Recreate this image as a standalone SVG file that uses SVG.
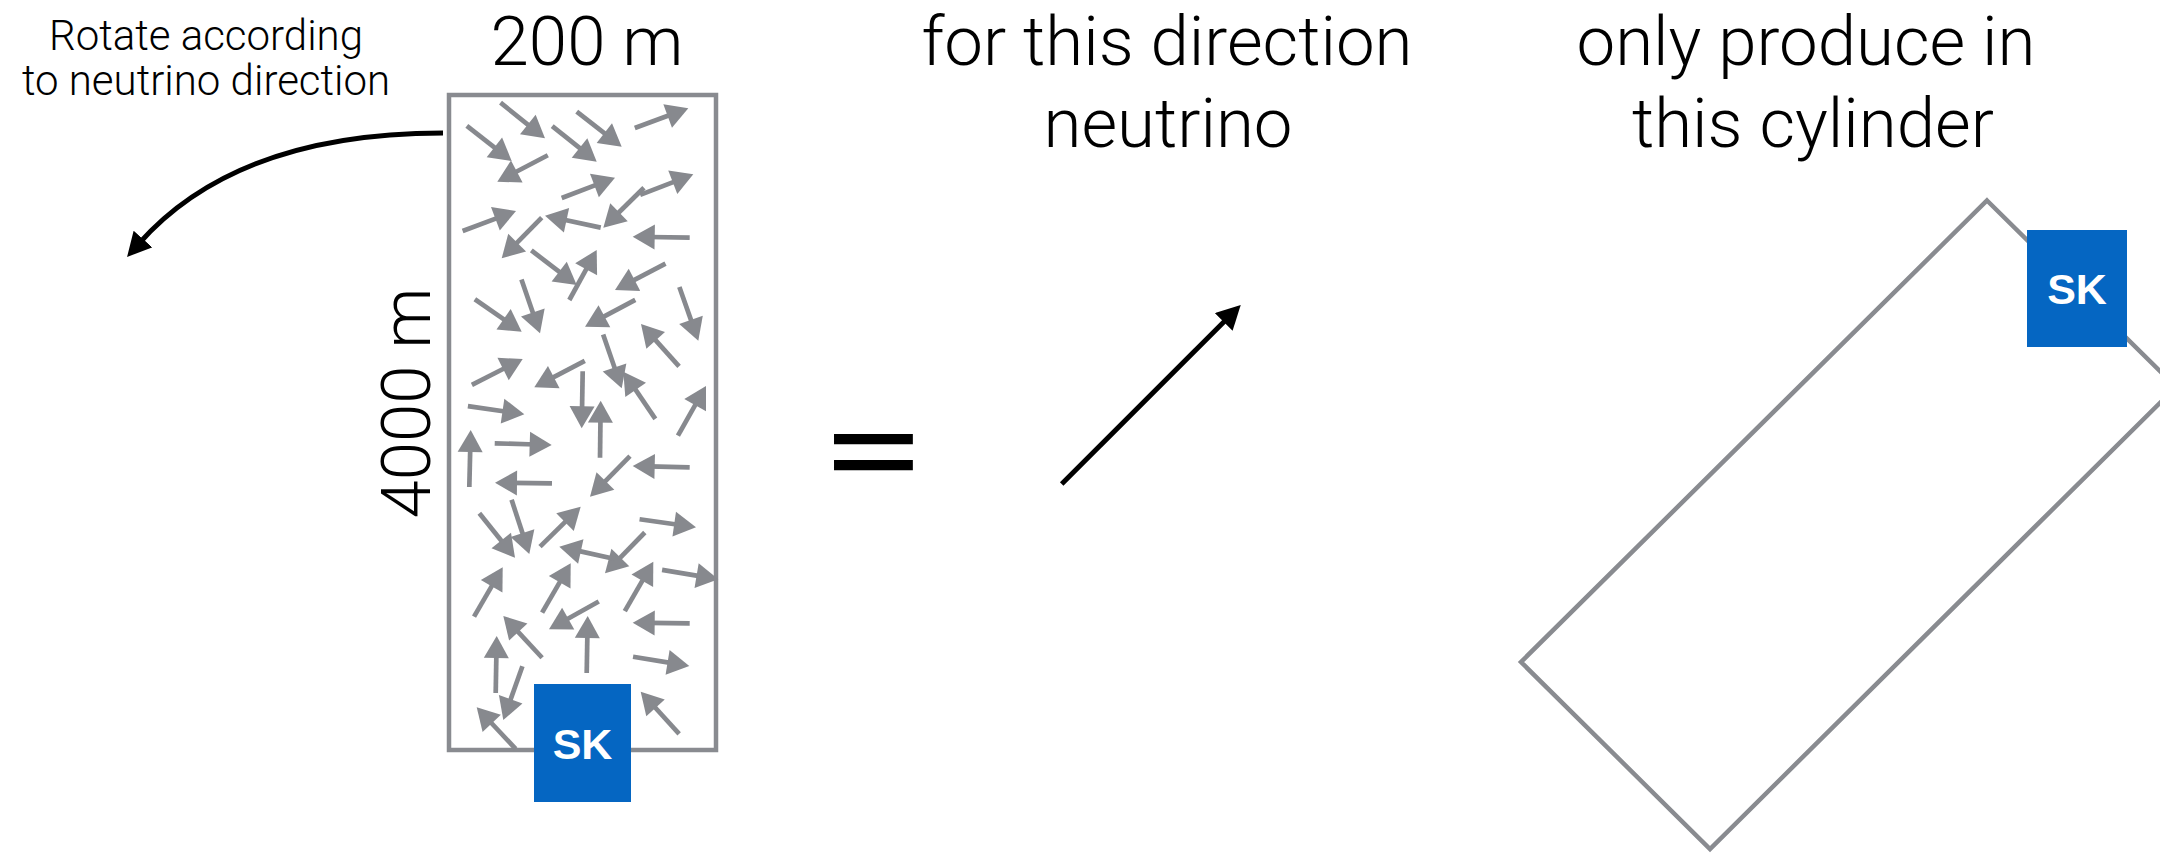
<svg xmlns="http://www.w3.org/2000/svg" xmlns:xlink="http://www.w3.org/1999/xlink" width="2160" height="855" viewBox="0 0 2160 855">
<style>
.lt{font-family:Roboto,'Liberation Sans',sans-serif;font-weight:300;fill:#000;text-anchor:middle}
.big{font-size:69px}
.small{font-size:42px}
.sk{font-family:'Liberation Sans',Arial,sans-serif;font-weight:bold;font-size:43px;fill:#fff;text-anchor:middle}
.skbox{fill:#0566c2}
.frame{fill:none;stroke:#898b90;stroke-width:4.5}
.blk{fill:none;stroke:#000;stroke-width:5}
</style>
<defs>
<marker id="ah" viewBox="0 0 24 25" refX="6" refY="12.5" markerWidth="24" markerHeight="25" markerUnits="userSpaceOnUse" orient="auto">
<path d="M0,0 L24,12.5 L0,25 Z" fill="#000"/>
</marker>
<g id="ga">
<line x1="-57" y1="0" x2="-16" y2="0" stroke="#87898e" stroke-width="4.7"/>
<polygon points="0,0 -22,-12.5 -22,12.5" fill="#87898e"/>
</g>
</defs>
<rect width="2160" height="855" fill="#fff"/>

<g id="label-rotate">
<text class="lt small" x="206" y="50">Rotate according</text>
<text class="lt small" x="206" y="95">to neutrino direction</text>
</g>

<g id="label-200m"><text class="lt big" x="587" y="65">200 m</text></g>
<g id="label-4000m"><text class="lt big" transform="translate(430,403) rotate(-90)">4000 m</text></g>

<g id="volume">
<rect class="frame" x="449" y="95" width="267" height="655"/>
<g id="particles">
<use xlink:href="#ga" transform="translate(545,138.3) rotate(38.7)"/>
<use xlink:href="#ga" transform="translate(511.7,161) rotate(38.1)"/>
<use xlink:href="#ga" transform="translate(621.7,146.7) rotate(37.9)"/>
<use xlink:href="#ga" transform="translate(596.7,161.7) rotate(38.7)"/>
<use xlink:href="#ga" transform="translate(688.3,108.3) rotate(-20.2)"/>
<use xlink:href="#ga" transform="translate(497.3,181.7) rotate(152.4)"/>
<use xlink:href="#ga" transform="translate(615,177.7) rotate(-20.8)"/>
<use xlink:href="#ga" transform="translate(693.3,174.3) rotate(-21.2)"/>
<use xlink:href="#ga" transform="translate(603.3,227.7) rotate(135.5)"/>
<use xlink:href="#ga" transform="translate(516,211) rotate(-20.6)"/>
<use xlink:href="#ga" transform="translate(501.7,258.3) rotate(134.6)"/>
<use xlink:href="#ga" transform="translate(545,215.7) rotate(192.1)"/>
<use xlink:href="#ga" transform="translate(632.7,236.7) rotate(181)"/>
<use xlink:href="#ga" transform="translate(576.7,285) rotate(37.3)"/>
<use xlink:href="#ga" transform="translate(596.7,250) rotate(-61.3)"/>
<use xlink:href="#ga" transform="translate(615,290) rotate(152.4)"/>
<use xlink:href="#ga" transform="translate(521.7,331.7) rotate(34.7)"/>
<use xlink:href="#ga" transform="translate(540,333.3) rotate(71)"/>
<use xlink:href="#ga" transform="translate(585,326.7) rotate(151.9)"/>
<use xlink:href="#ga" transform="translate(698.3,340.7) rotate(70.6)"/>
<use xlink:href="#ga" transform="translate(641,324) rotate(228.1)"/>
<use xlink:href="#ga" transform="translate(621.7,388.3) rotate(71)"/>
<use xlink:href="#ga" transform="translate(623.3,371.7) rotate(235.8)"/>
<use xlink:href="#ga" transform="translate(522.7,359) rotate(-27)"/>
<use xlink:href="#ga" transform="translate(534.3,387.3) rotate(152.3)"/>
<use xlink:href="#ga" transform="translate(581.7,428.3) rotate(91)"/>
<use xlink:href="#ga" transform="translate(600.7,400.7) rotate(-89.3)"/>
<use xlink:href="#ga" transform="translate(524.3,414.3) rotate(8.3)"/>
<use xlink:href="#ga" transform="translate(706,386) rotate(-60.5)"/>
<use xlink:href="#ga" transform="translate(470.7,430) rotate(-88.6)"/>
<use xlink:href="#ga" transform="translate(551.7,445) rotate(1.7)"/>
<use xlink:href="#ga" transform="translate(495,482.7) rotate(180.6)"/>
<use xlink:href="#ga" transform="translate(590,496.7) rotate(134.5)"/>
<use xlink:href="#ga" transform="translate(632.7,466) rotate(181.3)"/>
<use xlink:href="#ga" transform="translate(515,557.7) rotate(51.3)"/>
<use xlink:href="#ga" transform="translate(529.3,554) rotate(71.9)"/>
<use xlink:href="#ga" transform="translate(580.7,506.7) rotate(-44.5)"/>
<use xlink:href="#ga" transform="translate(696,527.3) rotate(8.1)"/>
<use xlink:href="#ga" transform="translate(605,573.3) rotate(134.3)"/>
<use xlink:href="#ga" transform="translate(559.3,546.7) rotate(192.4)"/>
<use xlink:href="#ga" transform="translate(653.3,561.7) rotate(-60)"/>
<use xlink:href="#ga" transform="translate(718.3,579.3) rotate(9.5)"/>
<use xlink:href="#ga" transform="translate(502.7,567.3) rotate(-59.8)"/>
<use xlink:href="#ga" transform="translate(570.7,563.3) rotate(-59.9)"/>
<use xlink:href="#ga" transform="translate(549,629.3) rotate(150.8)"/>
<use xlink:href="#ga" transform="translate(632.7,622.7) rotate(180.6)"/>
<use xlink:href="#ga" transform="translate(503.3,616) rotate(227.1)"/>
<use xlink:href="#ga" transform="translate(587.7,616) rotate(-89)"/>
<use xlink:href="#ga" transform="translate(496.7,636) rotate(-89)"/>
<use xlink:href="#ga" transform="translate(689.3,666) rotate(9.3)"/>
<use xlink:href="#ga" transform="translate(503.3,720) rotate(109.6)"/>
<use xlink:href="#ga" transform="translate(476.7,707.3) rotate(226.9)"/>
<use xlink:href="#ga" transform="translate(640.7,691.7) rotate(227.6)"/>
</g>
</g>

<g id="sk-left">
<rect class="skbox" x="534" y="684" width="97" height="118"/>
<text class="sk" x="582.5" y="759">SK</text>
</g>

<g id="equals"><text x="873.5" y="503" transform="translate(0,450) scale(1,0.68) translate(0,-450)" font-family="'Liberation Sans',Arial,sans-serif" font-size="154" text-anchor="middle" fill="#000" stroke="#000" stroke-width="4">=</text></g>

<g id="label-direction">
<text class="lt big" x="1167" y="65">for this direction</text>
<text class="lt big" x="1168" y="147">neutrino</text>
</g>

<g id="label-cylinder">
<text class="lt big" x="1806" y="65">only produce in</text>
<text class="lt big" x="1813" y="147">this cylinder</text>
</g>

<g id="cylinder">
<polygon class="frame" points="1987,200.5 2176,387 1710,849 1521,662"/>
</g>

<g id="sk-right">
<rect class="skbox" x="2027" y="230" width="100" height="117"/>
<text class="sk" x="2077" y="304">SK</text>
</g>

<g id="connectors">
<path class="blk" d="M443,133 Q237,133 139,243.5" marker-end="url(#ah)"/>
<line class="blk" x1="1061.7" y1="484" x2="1228" y2="317.7" marker-end="url(#ah)"/>
</g>
</svg>
